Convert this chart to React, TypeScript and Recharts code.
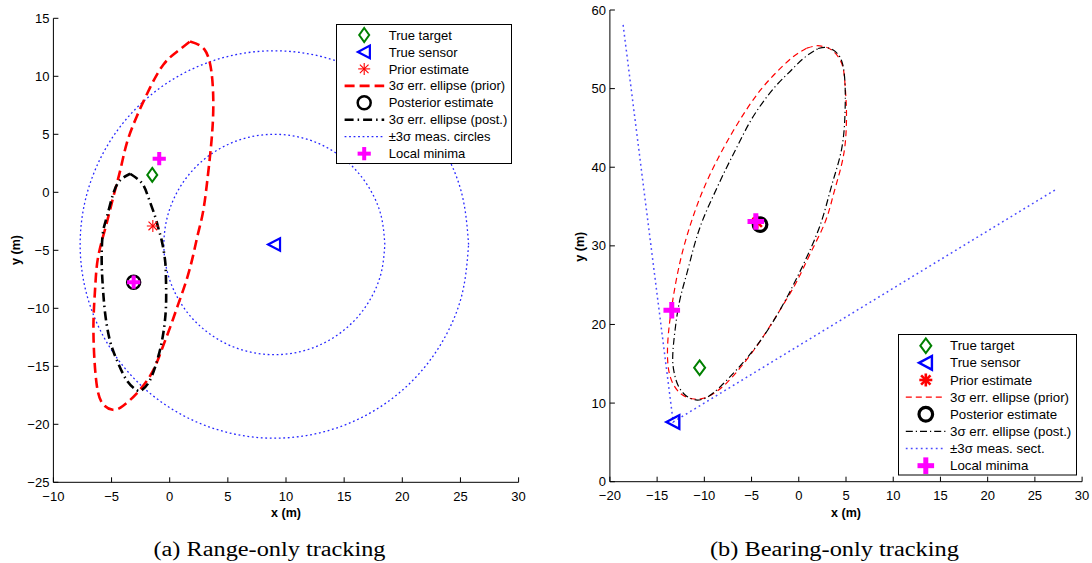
import React from 'react';
import { ComposedChart, Line, Scatter, XAxis, YAxis } from 'recharts';

type Pt = [number, number];

// ---------- (a) Range-only tracking ----------
const rangeXTicks = [-10, -5, 0, 5, 10, 15, 20, 25, 30];
const rangeYTicks = [-25, -20, -15, -10, -5, 0, 5, 10, 15];
const rangeTarget: Pt[] = [[-1.5, 1.5]];
const rangeSensor: Pt[] = [[9, -4.5]];
const rangePrior: Pt[] = [[-1.45, -2.9]];
const rangePosterior: Pt[] = [[-3.1, -7.75]];
const rangeMinima: Pt[] = [[-0.9, 2.9], [-3.1, -7.75]];
const rangePriorEllipse: Pt[] = [
  [1.75, 13.0], [3.0, 12.3], [3.6, 10.3], [3.75, 7.4], [3.6, 4.5], [3.3, 1.6], [2.9, -1.5],
  [2.45, -3.5], [2.0, -5.5], [1.45, -7.55], [0.75, -9.6], [0.05, -11.6], [-0.7, -13.6],
  [-1.55, -15.6], [-2.85, -17.35], [-4.0, -18.4], [-4.9, -18.75], [-5.85, -18.1], [-6.3, -16.4],
  [-6.5, -13.9], [-6.55, -11.0], [-6.4, -8.1], [-6.15, -5.55], [-5.5, -2.97], [-4.85, -0.4],
  [-4.25, 1.9], [-3.7, 4.2], [-2.85, 6.5], [-1.7, 9.0], [-0.55, 11.0], [0.6, 12.1], [1.75, 13.0],
];
const rangePostEllipse: Pt[] = [
  [-3.4, 1.6], [-2.4, 0.8], [-1.85, -0.4], [-1.25, -2.1], [-0.95, -3.2], [-0.7, -4.1],
  [-0.4, -5.85], [-0.32, -7.55], [-0.32, -9.85], [-0.55, -12.15], [-0.98, -14.15], [-1.7, -16.2],
  [-2.4, -17.05], [-2.85, -17.05], [-3.7, -16.2], [-4.55, -14.45], [-5.15, -12.75], [-5.55, -10.45],
  [-5.75, -8.15], [-5.85, -5.85], [-5.75, -3.55], [-5.4, -2.1], [-4.85, -0.1], [-4.25, 1.05], [-3.4, 1.6],
];
const rangeOuterCircle: Pt[] = [
  [25.7, -4.5], [25.13, -0.18], [23.46, 3.85], [20.81, 7.31], [17.35, 9.96], [13.32, 11.63],
  [9, 12.2], [4.68, 11.63], [0.65, 9.96], [-2.81, 7.31], [-5.46, 3.85], [-7.13, -0.18],
  [-7.7, -4.5], [-7.13, -8.82], [-5.46, -12.85], [-2.81, -16.31], [0.65, -18.96], [4.68, -20.63],
  [9, -21.2], [13.32, -20.63], [17.35, -18.96], [20.81, -16.31], [23.46, -12.85], [25.13, -8.82], [25.7, -4.5],
];
const rangeInnerCircle: Pt[] = [
  [18.5, -4.5], [18.18, -2.04], [17.23, 0.25], [15.72, 2.22], [13.75, 3.73], [11.46, 4.68],
  [9, 5.0], [6.54, 4.68], [4.25, 3.73], [2.28, 2.22], [0.77, 0.25], [-0.18, -2.04],
  [-0.5, -4.5], [-0.18, -6.96], [0.77, -9.25], [2.28, -11.22], [4.25, -12.73], [6.54, -13.68],
  [9, -14.0], [11.46, -13.68], [13.75, -12.73], [15.72, -11.22], [17.23, -9.25], [18.18, -6.96], [18.5, -4.5],
];

// ---------- (b) Bearing-only tracking ----------
const bearingXTicks = [-20, -15, -10, -5, 0, 5, 10, 15, 20, 25, 30];
const bearingYTicks = [0, 10, 20, 30, 40, 50, 60];
const bearingTarget: Pt[] = [[-10.5, 14.5]];
const bearingSensor: Pt[] = [[-13.3, 7.6]];
const bearingPrior: Pt[] = [[-4.4, 33.0]];
const bearingPosterior: Pt[] = [[-4.1, 32.7]];
const bearingMinima: Pt[] = [[-4.55, 33.1], [-13.45, 21.8]];
const bearingSector: Pt[] = [[-18.6, 58.1], [-13.3, 7.6], [27.4, 37.3]];
const bearingPriorEllipse: Pt[] = [
  [0.85, 55.15], [1.9, 55.45], [2.6, 55.35], [3.5, 54.9], [4.55, 53.2], [4.9, 50.45], [5.05, 47.05],
  [4.9, 42.85], [4.35, 39.45], [3.65, 36.45], [2.8, 33.05], [1.25, 29.1], [-0.2, 25.5],
  [-1.7, 22.4], [-3.15, 19.6], [-4.75, 16.75], [-6.2, 14.5], [-7.6, 12.6], [-8.8, 11.4],
  [-10.0, 10.65], [-11.3, 10.55], [-12.65, 11.35], [-13.6, 13.3], [-13.9, 15.9],
  [-13.8, 18.9], [-13.45, 22.25], [-12.95, 25.8], [-12.3, 29.3], [-11.5, 32.6], [-10.6, 35.7],
  [-9.55, 38.7], [-8.3, 41.7], [-6.95, 44.6], [-5.5, 47.4], [-4.0, 49.9], [-2.35, 52.1],
  [-0.6, 54.05], [0.85, 55.15],
];
const bearingPostEllipse: Pt[] = [
  [2.05, 55.1], [2.8, 55.25], [3.65, 54.9], [4.55, 53.5], [4.9, 50.5], [4.9, 47.05], [4.55, 42.4],
  [3.5, 37.75], [2.4, 33.1], [0.9, 28.7], [-0.65, 24.85], [-2.4, 21.0], [-4.45, 17.3],
  [-6.5, 14.35], [-8.3, 12.1], [-9.7, 10.75], [-10.9, 10.4], [-12.0, 11.0], [-12.8, 12.3],
  [-13.2, 13.9], [-13.35, 15.9], [-13.1, 19.3], [-12.6, 23.1], [-11.85, 26.5], [-11.1, 29.9],
  [-10.2, 33.2], [-9.0, 36.5], [-7.75, 39.7], [-6.45, 42.8], [-5.15, 45.8],
  [-3.75, 48.35], [-2.35, 50.45], [-0.95, 52.15], [0.5, 53.85], [2.05, 55.1],
];

const legendLabelsA = [
  'True target', 'True sensor', 'Prior estimate', '3σ err. ellipse (prior)',
  'Posterior estimate', '3σ err. ellipse (post.)', '±3σ meas. circles', 'Local minima',
];
const legendLabelsB = [
  'True target', 'True sensor', 'Prior estimate', '3σ err. ellipse (prior)',
  'Posterior estimate', '3σ err. ellipse (post.)', '±3σ meas. sect.', 'Local minima',
];

const toRows = (pts: Pt[]) => pts.map(([x, y]) => ({ x, y }));
const FONT = '"Liberation Sans", Arial, Helvetica, sans-serif';
const GREEN = '#008000';
const BLUE = '#0000ff';
const RED = '#ff0000';
const MAGENTA = '#ff00ff';

// ---------- marker shapes ----------
type MS = { cx: number; cy: number; big?: boolean };
const Diamond = ({ cx, cy, big }: MS) => {
  const w = big ? 5.5 : 5, h = big ? 7.3 : 7;
  return <polygon points={`${cx},${cy - h} ${cx + w},${cy} ${cx},${cy + h} ${cx - w},${cy}`} fill="none" stroke={GREEN} strokeWidth={2} />;
};
const TriLeft = ({ cx, cy, big }: MS) => {
  const s = big ? 6.8 : 6.3;
  return <polygon points={`${cx - s},${cy} ${cx + s * 0.9},${cy - s} ${cx + s * 0.9},${cy + s}`} fill="none" stroke={BLUE} strokeWidth={big ? 2.4 : 2.2} strokeLinejoin="miter" />;
};
const Asterisk = ({ cx, cy, big }: MS) => {
  const r = big ? 6.5 : 6;
  const d = r * 0.72;
  const sw = big ? 2.6 : 1.1;
  return (
    <g stroke={RED} strokeWidth={sw}>
      <line x1={cx - r} y1={cy} x2={cx + r} y2={cy} />
      <line x1={cx} y1={cy - r} x2={cx} y2={cy + r} />
      <line x1={cx - d} y1={cy - d} x2={cx + d} y2={cy + d} />
      <line x1={cx - d} y1={cy + d} x2={cx + d} y2={cy - d} />
    </g>
  );
};
const Ring = ({ cx, cy, big }: MS) => (
  <circle cx={cx} cy={cy} r={big ? 6.8 : 6.5} fill="none" stroke="#000" strokeWidth={big ? 3.2 : 2.5} />
);
const Plus = ({ cx, cy, big }: MS) => {
  const r = big ? 8.3 : 6.6;
  const sw = big ? 5 : 4;
  return (
    <g stroke={MAGENTA} strokeWidth={sw}>
      <line x1={cx - r} y1={cy} x2={cx + r} y2={cy} />
      <line x1={cx} y1={cy - r} x2={cx} y2={cy + r} />
    </g>
  );
};

const minus = (v: number) => String(v).replace('-', '\u2212');
const tickStyle = { fill: '#000', fontSize: 13, fontFamily: FONT };

type LineStyle = { priorDash: string; priorW: number; postDash: string; postW: number; measDash: string; measW: number; measColor: string };
type PanelProps = {
  left: number; width: number; height: number;
  margin: { top: number; right: number; bottom: number; left: number };
  xDomain: [number, number]; yDomain: [number, number];
  xTicks: number[]; yTicks: number[];
  big: boolean;
  prior: Pt[]; post: Pt[]; meas: Pt[][]; measType: 'natural' | 'linear';
  target: Pt[]; sensor: Pt[]; priorEst: Pt[]; postEst: Pt[]; minima: Pt[];
  style: LineStyle;
};

const Panel = (p: PanelProps) => (
  <div style={{ position: 'absolute', left: p.left, top: 0 }}>
    <ComposedChart width={p.width} height={p.height} margin={p.margin}>
      <XAxis
        type="number" dataKey="x" domain={p.xDomain} ticks={p.xTicks} interval={0}
        allowDataOverflow height={30} tickSize={-5} tickMargin={14.5}
        tick={tickStyle} tickFormatter={minus}
        axisLine={{ stroke: '#000' }} tickLine={{ stroke: '#000' }}
      />
      <YAxis
        type="number" dataKey="y" domain={p.yDomain} ticks={p.yTicks} interval={0}
        allowDataOverflow width={40} tickSize={-5} tickMargin={9}
        tick={tickStyle} tickFormatter={minus}
        axisLine={{ stroke: '#000' }} tickLine={{ stroke: '#000' }}
      />
      {p.meas.map((m, i) => (
        <Line key={`m${i}`} data={toRows(m)} dataKey="y" type={p.measType} stroke={p.style.measColor}
          strokeWidth={p.style.measW} strokeDasharray={p.style.measDash} dot={false} activeDot={false}
          isAnimationActive={false} />
      ))}
      <Line data={toRows(p.prior)} dataKey="y" type="natural" stroke={RED} strokeWidth={p.style.priorW}
        strokeDasharray={p.style.priorDash} dot={false} activeDot={false} isAnimationActive={false} />
      <Line data={toRows(p.post)} dataKey="y" type="natural" stroke="#000" strokeWidth={p.style.postW}
        strokeDasharray={p.style.postDash} dot={false} activeDot={false} isAnimationActive={false} />
      <Scatter data={toRows(p.target)} isAnimationActive={false} shape={(s: any) => <Diamond cx={s.cx} cy={s.cy} big={p.big} />} />
      <Scatter data={toRows(p.sensor)} isAnimationActive={false} shape={(s: any) => <TriLeft cx={s.cx} cy={s.cy} big={p.big} />} />
      <Scatter data={toRows(p.priorEst)} isAnimationActive={false} shape={(s: any) => <Asterisk cx={s.cx} cy={s.cy} big={p.big} />} />
      <Scatter data={toRows(p.postEst)} isAnimationActive={false} shape={(s: any) => <Ring cx={s.cx} cy={s.cy} big={p.big} />} />
      <Scatter data={toRows(p.minima)} isAnimationActive={false} shape={(s: any) => <Plus cx={s.cx} cy={s.cy} big={p.big} />} />
    </ComposedChart>
  </div>
);

const styleA: LineStyle = { priorDash: '10 5', priorW: 2.6, postDash: '9 4 1.5 4', postW: 2.6, measDash: '1.8 2.7', measW: 1.3, measColor: '#2626ff' };
const styleB: LineStyle = { priorDash: '6 4', priorW: 1.2, postDash: '7 3 1.2 3', postW: 1.2, measDash: '1.8 3.2', measW: 1.5, measColor: '#4a4aff' };

type LegendProps = { x: number; y: number; w: number; h: number; mx: number; lx0: number; lx1: number; tx: number; row0: number; dy: number; labels: string[]; big: boolean; fs: number; st: LineStyle };
const LegendBox = (L: LegendProps) => {
  const ry = (i: number) => L.row0 + i * L.dy;
  return (
    <g>
      <rect x={L.x} y={L.y} width={L.w} height={L.h} fill="#fff" stroke="#000" strokeWidth={1} />
      <Diamond cx={L.mx} cy={ry(0)} big={L.big} />
      <TriLeft cx={L.mx} cy={ry(1)} big={L.big} />
      <Asterisk cx={L.mx} cy={ry(2)} big={L.big} />
      <line x1={L.lx0} y1={ry(3)} x2={L.lx1} y2={ry(3)} stroke={RED} strokeWidth={L.st.priorW} strokeDasharray={L.st.priorDash} />
      <Ring cx={L.mx} cy={ry(4)} big={L.big} />
      <line x1={L.lx0} y1={ry(5)} x2={L.lx1} y2={ry(5)} stroke="#000" strokeWidth={L.st.postW} strokeDasharray={L.st.postDash} />
      <line x1={L.lx0} y1={ry(6)} x2={L.lx1} y2={ry(6)} stroke={L.st.measColor} strokeWidth={L.st.measW} strokeDasharray={L.st.measDash} />
      <Plus cx={L.mx} cy={ry(7)} big={L.big} />
      {L.labels.map((t, i) => (
        <text key={t} x={L.tx} y={ry(i) + 4.6} fontSize={L.fs} fontFamily={FONT} fill="#000">{t}</text>
      ))}
    </g>
  );
};

export default function App() {
  return (
    <div style={{ position: 'absolute', left: 0, top: 0, width: 1092, height: 563, background: '#fff', overflow: 'hidden' }}>
      <Panel
        left={0} width={540} height={563}
        margin={{ top: 18.3, right: 21.4, bottom: 50.7, left: 13.4 }}
        xDomain={[-10, 30]} yDomain={[-25, 15]} xTicks={rangeXTicks} yTicks={rangeYTicks} big={false}
        prior={rangePriorEllipse} post={rangePostEllipse} meas={[rangeOuterCircle, rangeInnerCircle]} measType="natural"
        target={rangeTarget} sensor={rangeSensor} priorEst={rangePrior} postEst={rangePosterior} minima={rangeMinima}
        style={styleA}
      />
      <Panel
        left={560} width={532} height={563}
        margin={{ top: 10, right: 9.9, bottom: 51.3, left: 9.9 }}
        xDomain={[-20, 30]} yDomain={[0, 60]} xTicks={bearingXTicks} yTicks={bearingYTicks} big={true}
        prior={bearingPriorEllipse} post={bearingPostEllipse} meas={[bearingSector]} measType="linear"
        target={bearingTarget} sensor={bearingSensor} priorEst={bearingPrior} postEst={bearingPosterior} minima={bearingMinima}
        style={styleB}
      />
      <svg width={1092} height={563} style={{ position: 'absolute', left: 0, top: 0, pointerEvents: 'none' }}>
        <LegendBox x={336.5} y={24.5} w={175} h={139} mx={364.2} lx0={344.6} lx1={384.2} tx={388.7}
          row0={35} dy={16.95} labels={legendLabelsA} big={false} fs={13} st={styleA} />
        <LegendBox x={898.5} y={334.5} w={178} h={140.5} mx={925.8} lx0={905.8} lx1={945.5} tx={950}
          row0={345.7} dy={17.14} labels={legendLabelsB} big={true} fs={13.3} st={styleB} />
        <text x={286} y={517} textAnchor="middle" fontSize={12.5} fontWeight="bold" fontFamily={FONT}>x (m)</text>
        <text x={846} y={517} textAnchor="middle" fontSize={12.5} fontWeight="bold" fontFamily={FONT}>x (m)</text>
        <text transform="translate(20,250) rotate(-90)" textAnchor="middle" fontSize={12.5} fontWeight="bold" fontFamily={FONT}>y (m)</text>
        <text transform="translate(584,246.7) rotate(-90)" textAnchor="middle" fontSize={12.5} fontWeight="bold" fontFamily={FONT}>y (m)</text>
        <text x={269.5} y={556} textAnchor="middle" fontSize={20} fontFamily='"Liberation Serif", "Times New Roman", serif'
          textLength={232} lengthAdjust="spacingAndGlyphs">(a) Range-only tracking</text>
        <text x={834.4} y={556} textAnchor="middle" fontSize={20} fontFamily='"Liberation Serif", "Times New Roman", serif'
          textLength={249} lengthAdjust="spacingAndGlyphs">(b) Bearing-only tracking</text>
      </svg>
    </div>
  );
}
